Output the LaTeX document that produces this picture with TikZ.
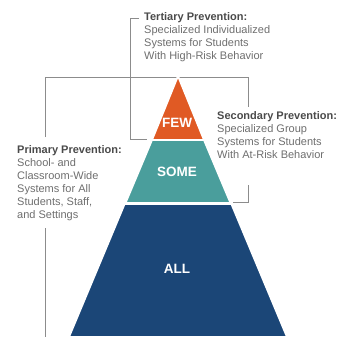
\documentclass[tikz,border=0pt]{standalone}
\usepackage{fontspec}
\setmainfont{Liberation Sans}
\usetikzlibrary{positioning}
\definecolor{fewcol}{HTML}{E05A24}
\definecolor{somecol}{HTML}{4A9E9C}
\definecolor{allcol}{HTML}{1B4677}
\definecolor{headcol}{HTML}{4A4A4A}
\definecolor{bodycol}{HTML}{6E6E6E}
\definecolor{linecol}{HTML}{8C8C8C}

\begin{document}
\begin{tikzpicture}[x=1pt,y=-1pt,
    tier/.style={draw=white, line width=1.8pt, line join=round},
    tierlabel/.style={text=white, font=\fontsize{13.5}{15}\selectfont\bfseries},
    note/.style={align=left, anchor=north west, inner sep=0pt, text=bodycol,
      font=\fontsize{11}{13}\selectfont},
    bracket/.style={draw=linecol, line width=0.6pt}]
  \useasboundingbox (0,0) rectangle (347,337);

  % bracket points
  \coordinate (topL) at (45,77);
  \coordinate (topR) at (248,77);
  \coordinate (primA) at (45,137);
  \coordinate (primB) at (45,228);
  \coordinate (primC) at (45,337);
  \coordinate (secA) at (248,107);
  \coordinate (secB) at (248,185);
  \coordinate (secC) at (248,202);
  \coordinate (secD) at (233,202);
  \coordinate (terA) at (139,18);
  \coordinate (terB) at (130,18);
  \coordinate (terC) at (130,139);
  \coordinate (terD) at (147,139);

  \draw[bracket] (primA) -- (topL) -- (topR) -- (secA);
  \draw[bracket] (primB) -- (primC);
  \draw[bracket] (secB) -- (secC) -- (secD);
  \draw[bracket] (terA) -- (terB) -- (terC) -- (terD);

  % pyramid
  \filldraw[tier, fill=allcol] (124.6,204) -- (231.4,204) -- (287,337) -- (69,337) -- cycle;
  \filldraw[tier, fill=somecol] (152,140) -- (204,140) -- (230.5,203) -- (125.5,203) -- cycle;
  \filldraw[tier, fill=fewcol] (178,76) -- (204,140) -- (152,140) -- cycle;

  \node[tierlabel] (few) at (177,123) {FEW};
  \node[tierlabel] (some) at (177,172) {SOME};
  \node[tierlabel] (all) at (177,269) {ALL};

  \node[note] (tert) at (144,12.5) {{\bfseries\color{headcol}Tertiary Prevention:}\\
    Specialized Individualized\\ Systems for Students\\ With High-Risk Behavior};
  \node[note] (sec) at (217,111.5) {{\bfseries\color{headcol}Secondary Prevention:}\\
    Specialized Group\\ Systems for Students\\ With At-Risk Behavior};
  \node[note] (prim) at (17,145.5) {{\bfseries\color{headcol}Primary Prevention:}\\
    School- and\\ Classroom-Wide\\ Systems for All\\ Students, Staff,\\ and Settings};
\end{tikzpicture}
\end{document}
